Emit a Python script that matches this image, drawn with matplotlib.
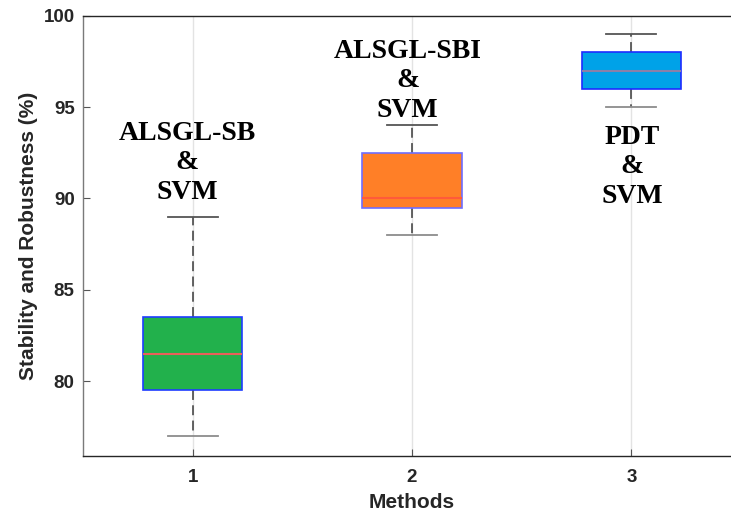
import matplotlib
matplotlib.use("Agg")
import matplotlib.pyplot as plt

# ---- data ----
methods = [1, 2, 3]
q1 = [79.5, 89.5, 96.0]
medians = [81.5, 90.0, 97.0]
q3 = [83.5, 92.5, 98.0]
whislo = [77.0, 88.0, 95.0]
whishi = [89.0, 94.0, 99.0]
box_colors = ["#22B14C", "#FF7F27", "#00A2E8"]
median_colors = ["#E8605A", "#FF5A3A", "#8A80A8"]
edge_colors = ["#1E3CFF", "#6E6EFF", "#1E2CFF"]
labels = ["ALSGL-SB\n&\nSVM", "ALSGL-SBI\n&\nSVM", "PDT\n&\nSVM"]
label_x = [0.974, 1.98, 3.003]
label_y = [93.21, 97.71, 92.99]
yticks = [80, 85, 90, 95, 100]

plt.rcParams["font.family"] = ["Liberation Sans", "DejaVu Sans"]

fig = plt.figure(figsize=(7.31, 5.13), dpi=100)
ax = fig.add_axes([83 / 731, 57 / 513, 658 / 731, 440.3 / 513])

stats = []
for i in range(len(methods)):
    stats.append(dict(med=medians[i], q1=q1[i], q3=q3[i],
                      whislo=whislo[i], whishi=whishi[i], fliers=[]))

bp = ax.bxp(stats, positions=methods, widths=0.453, capwidths=0.228,
            patch_artist=True, showfliers=False, manage_ticks=False)

for i, b in enumerate(bp["boxes"]):
    b.set_facecolor(box_colors[i])
    b.set_edgecolor(edge_colors[i])
    b.set_linewidth(1.2)
    b.set_zorder(3)
for i, m in enumerate(bp["medians"]):
    m.set_color(median_colors[i])
    m.set_linewidth(1.5)
    m.set_zorder(4)
for w in bp["whiskers"]:
    w.set_color("#3a3a3a")
    w.set_linewidth(1.1)
    w.set_linestyle((0, (6.5, 3.5)))
    w.set_zorder(2)
for j, c in enumerate(bp["caps"]):
    c.set_color("#8c8c8c" if j % 2 == 0 else "#555555")
    c.set_linewidth(1.3)
    c.set_zorder(2)

ax.set_xlim(0.5, 3.5)
ax.set_ylim(75.9, 100)
ax.set_xticks(methods)
ax.set_xticklabels([str(m) for m in methods])
ax.set_yticks(yticks)

ax.grid(axis="x", color="#e3e3e3", linewidth=1.0, zorder=0)
ax.set_axisbelow(True)

for s in ax.spines.values():
    s.set_color("#262626")
    s.set_linewidth(1.0)
ax.spines["left"].set_color("#7a7a7a")

ax.tick_params(direction="in", length=5, width=0.8, color="#555555",
               labelsize=13.5, labelcolor="#262626")
ax.tick_params(axis="y", pad=6)
ax.tick_params(axis="x", pad=9)
for t in ax.get_xticklabels() + ax.get_yticklabels():
    t.set_fontweight("bold")

ax.set_xlabel("Methods", fontsize=15, fontweight="bold", color="#262626")
ax.set_ylabel("Stability and Robustness (%)", fontsize=15,
              fontweight="bold", color="#262626")
ax.xaxis.set_label_coords(0.5, -0.085)
ax.yaxis.set_label_coords(-0.069, 0.5)

for i, lab in enumerate(labels):
    for k, line in enumerate(lab.split("\n")):
        ax.annotate(line, xy=(label_x[i], label_y[i]), xytext=(0, -k * 21.4),
                    textcoords="offset points", ha="center", va="baseline",
                    fontsize=20, fontweight="bold", color="black",
                    family=["Liberation Serif", "DejaVu Serif"], zorder=5)

fig.savefig("out.png", dpi=100)
